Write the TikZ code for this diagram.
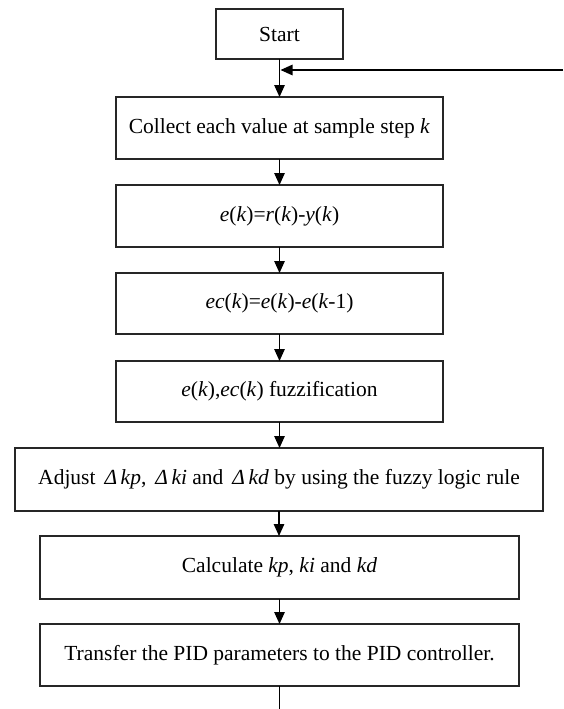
\documentclass[tikz,border=0pt]{standalone}
\usepackage{fontspec}
\setmainfont{Liberation Serif}
\usetikzlibrary{arrows.meta}
\begin{document}
\begin{tikzpicture}[x=1pt,y=-1pt,
  box/.style={draw=black!85, line width=1.3pt, inner sep=0pt, outer sep=0pt,
    minimum height=62pt, align=center, font=\fontsize{21.5}{25}\selectfont},
  flow/.style={line width=1.3pt, draw=black, -{Triangle[length=12pt,width=10.5pt]}},
  plain/.style={line width=1.3pt, draw=black}]
\useasboundingbox (0,0) rectangle (563,709);
\node[box, minimum width=127pt, minimum height=50pt] (start) at (279.5,34) {Start};
\node[box, minimum width=327pt] (b1) at (279.5,128) {Collect each value at sample step \textit{k}};
\node[box, minimum width=327pt] (b2) at (279.5,216) {\textit{e}(\textit{k})=\textit{r}(\textit{k})-\textit{y}(\textit{k})};
\node[box, minimum width=327pt, minimum height=61pt] (b3) at (279.5,303.5) {\textit{ec}(\textit{k})=\textit{e}(\textit{k})-\textit{e}(\textit{k}-1)};
\node[box, minimum width=327pt, minimum height=61pt] (b4) at (279.5,391.5) {\textit{e}(\textit{k}),\textit{ec}(\textit{k}) fuzzification};
\node[box, minimum width=528pt, minimum height=63pt] (b5) at (279,479.5) {Adjust\, \textit{Δ\,kp}, \,\textit{Δ\,ki} and\, \textit{Δ\,kd} by using the fuzzy logic rule};
\node[box, minimum width=479pt, minimum height=63pt] (b6) at (279.5,567.5) {Calculate \textit{kp}, \textit{ki} and \textit{kd}};
\node[box, minimum width=479pt] (b7) at (279.5,655) {Transfer the PID parameters to the PID controller.};
\coordinate (fbR) at (563,70);
\coordinate (fbJ) at (280.5,70);
\coordinate (endB) at (279.5,709);
\draw[flow] (start) -- (b1);
\draw[flow] (fbR) -- (fbJ);
\draw[flow] (b1) -- (b2);
\draw[flow] (b2) -- (b3);
\draw[flow] (b3) -- (b4);
\draw[flow] (b4.south) -- (b4.south |- b5.north);
\draw[flow] (b5.north |- b5.south) -- (b5.north |- b6.north);
\draw[flow] (b6) -- (b7);
\draw[plain] (b7) -- (endB);
\end{tikzpicture}
\end{document}
